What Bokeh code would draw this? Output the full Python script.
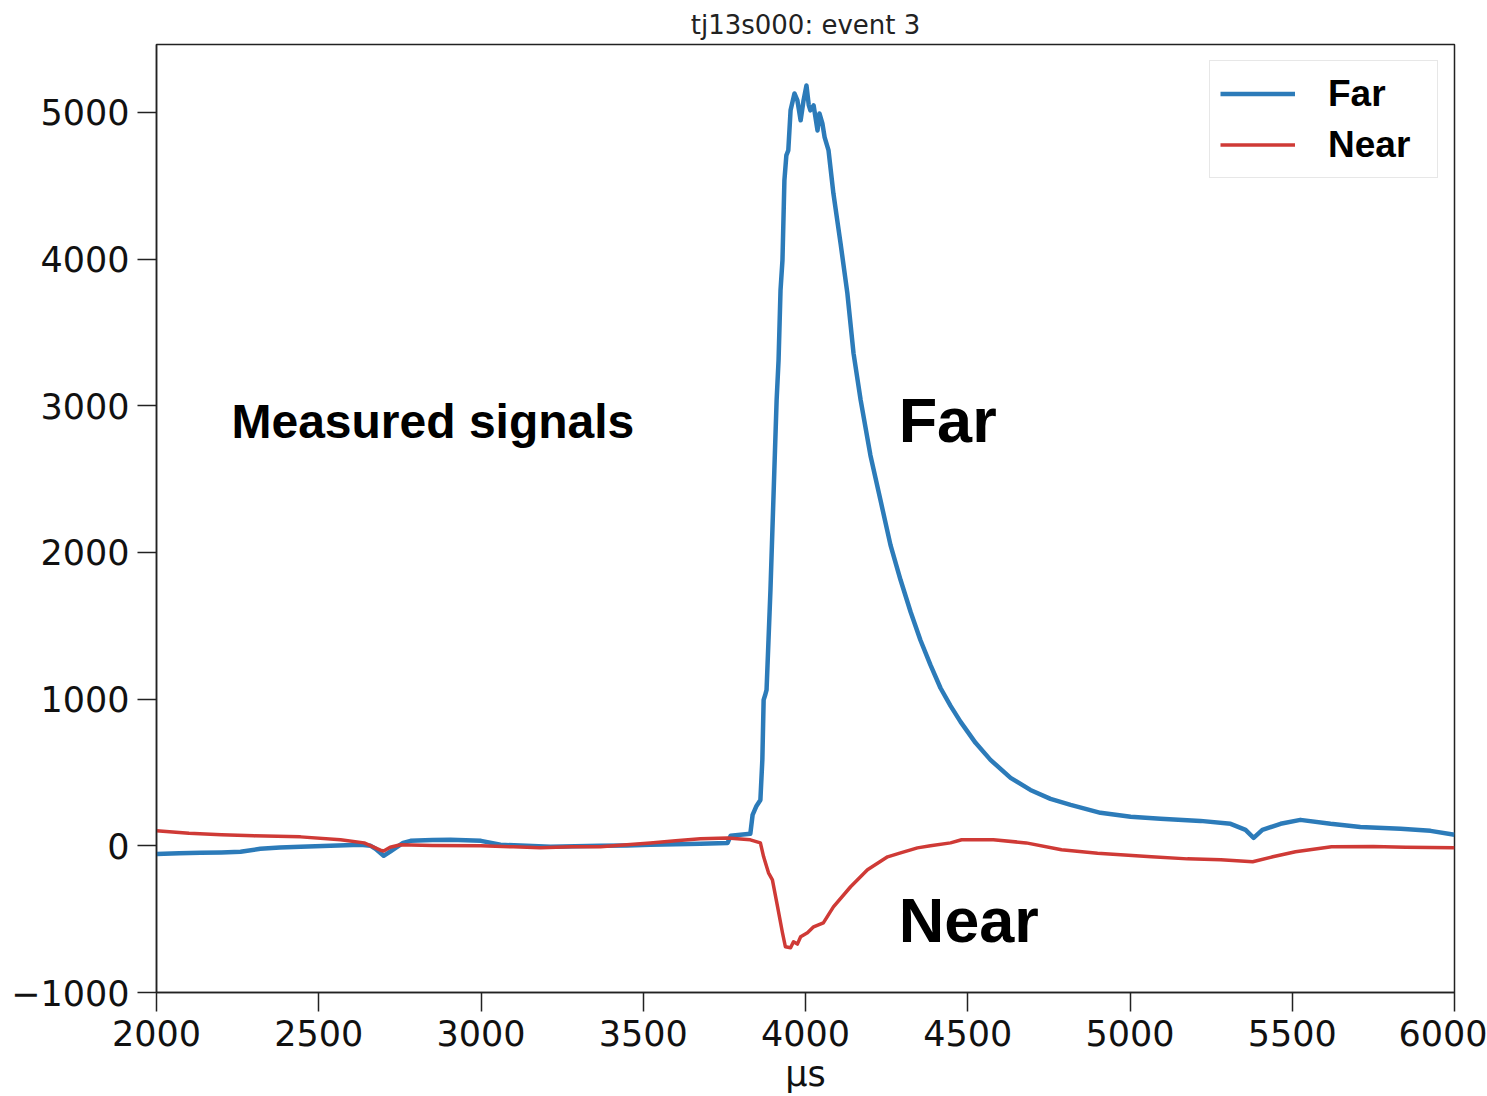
from bokeh.plotting import figure
from bokeh.models import Legend, LegendItem, Label, FixedTicker
from bokeh.embed import file_html
from bokeh.resources import INLINE

# ---- data ----
far_x = [2000, 2070, 2136, 2200, 2259, 2320, 2380, 2444, 2536, 2629, 2660, 2675, 2700, 2720,
         2737, 2760, 2783, 2850, 2906, 3000, 3060, 3140, 3214, 3290, 3368, 3450, 3522, 3600,
         3676, 3760, 3769, 3830, 3837, 3849, 3861, 3867, 3871, 3876, 3880, 3886, 3892, 3898,
         3904, 3911, 3917, 3923, 3929, 3935, 3941, 3947, 3954, 3966, 3975, 3985, 3994, 4003,
         4010, 4015, 4025, 4037, 4043, 4052, 4059, 4071, 4086, 4108, 4129, 4148, 4170, 4200,
         4231, 4262, 4293, 4324, 4354, 4385, 4416, 4447, 4478, 4524, 4570, 4632, 4693, 4755,
         4817, 4909, 5002, 5094, 5217, 5310, 5356, 5381, 5408, 5464, 5525, 5618, 5710, 5834,
         5926, 6000]
far_y = [-55, -50, -48, -45, -41, -20, -12, -7, 0, 7, 0, -20, -68, -40,
         -14, 20, 34, 40, 41, 34, 7, 0, -7, -3, 0, 3, 7, 10,
         14, 20, 68, 82, 211, 272, 313, 586, 995, 1030, 1063, 1403, 1744, 2153,
         2561, 3038, 3311, 3787, 3992, 4537, 4707, 4741, 5014, 5129, 5082, 4946, 5082, 5184,
         5050, 5014, 5048, 4877, 4993, 4925, 4830, 4741, 4448, 4108, 3767, 3358, 3038, 2663,
         2357, 2050, 1812, 1594, 1403, 1233, 1076, 954, 845, 702, 586, 463, 381, 320,
         279, 225, 198, 184, 170, 150, 109, 54, 109, 150, 177, 150, 129, 116,
         102, 75]

near_x = [2000, 2100, 2200, 2300, 2444, 2567, 2640, 2690, 2700, 2720, 2752, 2850, 3000, 3100,
          3183, 3280, 3368, 3450, 3522, 3600, 3676, 3760, 3830, 3861, 3871, 3886, 3898, 3914,
          3929, 3938, 3954, 3963, 3975, 3985, 4006, 4025, 4055, 4086, 4139, 4191, 4253, 4293,
          4345, 4385, 4447, 4481, 4549, 4579, 4680, 4789, 4900, 5066, 5177, 5280, 5378, 5440,
          5510, 5621, 5750, 5850, 6000]
near_y = [102, 85, 75, 68, 61, 41, 20, -30, -35, -10, 7, 3, 0, -7,
          -14, -7, -7, 7, 20, 34, 48, 54, 41, 20, -75, -184, -232, -416,
          -593, -688, -695, -654, -670, -620, -593, -552, -525, -416, -279, -163, -75, -48,
          -14, 0, 20, 41, 41, 41, 20, -27, -50, -75, -89, -95, -109, -75,
          -41, -7, -5, -10, -14]

x_ticks = [2000, 2500, 3000, 3500, 4000, 4500, 5000, 5500, 6000]
x_tick_labels = ["2000", "2500", "3000", "3500", "4000", "4500", "5000", "5500", "6000"]
y_ticks = [-1000, 0, 1000, 2000, 3000, 4000, 5000]
y_tick_labels = ["\u22121000", "0", "1000", "2000", "3000", "4000", "5000"]

series_names = ["Far", "Near"]
series_colors = ["#2c7bb9", "#cf3a36"]

# ---- figure ----
p = figure(width=1487, height=1096, x_range=(2000, 6000), y_range=(-1000, 5463),
           output_backend="svg", toolbar_location=None,
           min_border_left=156, min_border_right=33, min_border_top=44, min_border_bottom=103)
p.background_fill_color = "white"
p.border_fill_color = "white"
p.grid.visible = False
p.outline_line_color = "#222222"
p.outline_line_width = 1.5

p.title.text = "tj13s000: event 3"
p.title.align = "center"
p.title.text_font = "DejaVu Sans"
p.title.text_font_size = "26px"
p.title.text_font_style = "normal"
p.title.text_color = "#222222"
p.title.standoff = 9

for ax in (p.xaxis[0], p.yaxis[0]):
    ax.major_tick_in = 0
    ax.major_tick_out = 19
    ax.minor_tick_line_color = None
    ax.major_tick_line_width = 1.5
    ax.major_tick_line_color = "#222222"
    ax.axis_line_color = "#222222"
    ax.axis_line_width = 1.5
    ax.major_label_text_font = "DejaVu Sans"
    ax.major_label_text_font_size = "35px"
    ax.major_label_text_color = "#111111"
    ax.axis_label_text_font = "DejaVu Sans"
    ax.axis_label_text_font_size = "35px"
    ax.axis_label_text_font_style = "normal"
    ax.axis_label_text_color = "#111111"

p.xaxis.ticker = FixedTicker(ticks=x_ticks)
p.xaxis.major_label_overrides = dict(zip(x_ticks, x_tick_labels))
p.xaxis.major_label_standoff = 8
p.xaxis.axis_label = "\u00b5s"
p.xaxis.axis_label_standoff = 5
p.yaxis.ticker = FixedTicker(ticks=y_ticks)
p.yaxis.major_label_overrides = dict(zip(y_ticks, y_tick_labels))
p.yaxis.major_label_standoff = 8

r_far = p.line(far_x, far_y, line_color=series_colors[0], line_width=4.5, line_join="round")
r_near = p.line(near_x, near_y, line_color=series_colors[1], line_width=3.5, line_join="round")

legend = Legend(items=[LegendItem(label=series_names[0], renderers=[r_far]),
                       LegendItem(label=series_names[1], renderers=[r_near])],
                location="top_right")
legend.margin = 16
legend.padding = 10
legend.spacing = 6
legend.glyph_width = 75
legend.glyph_height = 45
legend.label_height = 45
legend.label_width = 99
legend.label_standoff = 33
legend.label_text_font = "Liberation Sans"
legend.label_text_font_size = "37px"
legend.label_text_font_style = "bold"
legend.label_text_color = "#000000"
legend.border_line_color = "#d0d0d0"
legend.border_line_width = 1.5
legend.background_fill_color = "white"
legend.background_fill_alpha = 1.0
p.add_layout(legend)

p.add_layout(Label(x=2231, y=2895, text="Measured signals", text_font="Liberation Sans",
                   text_font_size="48px", text_font_style="bold", text_color="#000000",
                   text_baseline="alphabetic"))
p.add_layout(Label(x=4287, y=2905, text="Far", text_font="Liberation Sans",
                   text_font_size="63px", text_font_style="bold", text_color="#000000",
                   text_baseline="alphabetic"))
p.add_layout(Label(x=4287, y=-505, text="Near", text_font="Liberation Sans",
                   text_font_size="63px", text_font_style="bold", text_color="#000000",
                   text_baseline="alphabetic"))

open("out.html", "w").write(file_html(p, INLINE))
